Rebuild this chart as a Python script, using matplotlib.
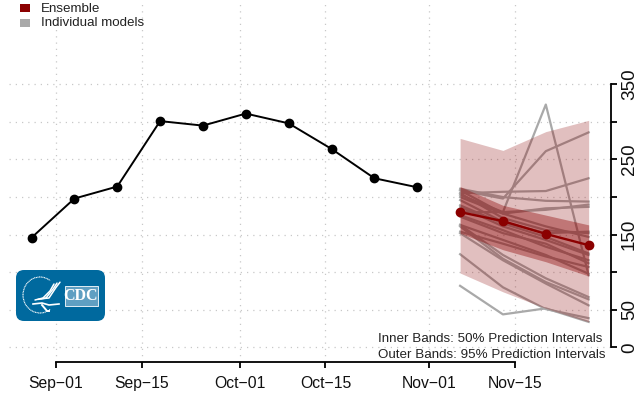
import numpy as np
import matplotlib
matplotlib.use('Agg')
import matplotlib.pyplot as plt
import matplotlib.dates as mdates
from matplotlib.patches import FancyBboxPatch, Arc, Rectangle

plt.rcParams['font.family'] = ['Liberation Sans', 'DejaVu Sans']

# observed data
obs_dates = ['2021-08-28', '2021-09-04', '2021-09-11', '2021-09-18', '2021-09-25',
             '2021-10-02', '2021-10-09', '2021-10-16', '2021-10-23', '2021-10-30']
obs_values = [146, 198, 214, 301, 295, 311, 298, 264, 225, 213]

# forecast
fc_dates = ['2021-11-06', '2021-11-13', '2021-11-20', '2021-11-27']
ensemble = [180, 168, 151, 136]
outer_upper = [278, 262, 287, 302]
outer_lower = [99, 74, 52, 34]
inner_upper = [214, 189, 176, 163]
inner_lower = [152, 130, 114, 95]

# individual models
models = [
    [82, 44, 52, 34],
    [124, 80, 51, 39],
    [180, 180, 323, 96],
    [209, 198, 261, 286],
    [205, 207, 208, 225],
    [211, 200, 195, 194],
    [203, 180, 183, 190],
    [200, 178, 185, 187],
    [163, 123, 92, 67],
    [161, 118, 87, 64],
    [152, 116, 85, 56],
    [189, 165, 147, 125],
    [187, 161, 143, 123],
    [176, 156, 134, 116],
    [196, 167, 152, 154],
    [205, 172, 156, 152],
    [209, 178, 161, 147],
    [154, 138, 121, 107],
    [163, 143, 123, 98],
    [174, 152, 138, 112],
]

tick_dates = ['2021-09-01', '2021-09-15', '2021-10-01', '2021-10-15', '2021-11-01', '2021-11-15']
tick_labels = ['Sep\u221201', 'Sep\u221215', 'Oct\u221201', 'Oct\u221215', 'Nov\u221201', 'Nov\u221215']
y_ticks = [0, 50, 100, 150, 200, 250, 300, 350]
y_labels = ['0', '50', '', '150', '', '250', '', '350']

W, H = 637, 399
fig = plt.figure(figsize=(W / 100, H / 100), dpi=100)
ax = fig.add_axes([9 / W, 1 - 361.7 / H, (610.7 - 9) / W, 361.7 / H])

obs_x = mdates.datestr2num(obs_dates)
fc_x = mdates.datestr2num(fc_dates)
ticks_x = mdates.datestr2num(tick_dates)

ax.grid(True, color='#c8c8c8', linestyle=(0, (1, 4)), linewidth=0.9)
ax.set_axisbelow(True)

# bands go over the model lines
for m in models:
    ax.plot(fc_x, m, color='#a9a9a9', linewidth=1.6)

ax.fill_between(fc_x, outer_lower, outer_upper, color='#8b0000', alpha=0.25, linewidth=0, zorder=3)
ax.fill_between(fc_x, inner_lower, inner_upper, color='#8b0000', alpha=0.38, linewidth=0, zorder=3)

ax.plot(obs_x, obs_values, color='black', linewidth=1.4, marker='o', markersize=6, zorder=4)
ax.plot(fc_x, ensemble, color='#8b0000', linewidth=1.7, marker='o', markersize=6, zorder=4)

ax.set_xlim(ticks_x[0] - 7.68, ticks_x[0] + 90.6)
ax.set_ylim(-18.9, 462)

ax.set_xticks(ticks_x)
ax.set_xticklabels(tick_labels, fontsize=11.3, color='#111111')
ax.yaxis.tick_right()
ax.set_yticks(y_ticks)
ax.set_yticklabels(y_labels, fontsize=13.6, rotation=90, va='center', color='#111111')
ax.tick_params(axis='x', length=4, width=1.3, pad=6)
ax.tick_params(axis='y', length=4, width=1.3, pad=3.5)

for s in ['top', 'left']:
    ax.spines[s].set_visible(False)
ax.spines['bottom'].set_bounds(ticks_x[0], ticks_x[-1])
ax.spines['right'].set_bounds(0, 350)
ax.spines['bottom'].set_linewidth(1.3)
ax.spines['right'].set_linewidth(1.3)

# overlay in pixel coordinates, for legend, notes and logo
ov = fig.add_axes([0, 0, 1, 1], facecolor='none')
ov.set_xlim(0, W)
ov.set_ylim(H, 0)
ov.axis('off')

ov.add_patch(Rectangle((20, 4), 10, 8, color='#8b0000', lw=0))
ov.add_patch(Rectangle((20, 19), 10, 8, color='#a9a9a9', lw=0))
ov.text(41, 8.5, 'Ensemble', fontsize=9.6, va='center', color='#222222')
ov.text(41, 23.5, 'Individual models', fontsize=9.6, va='center', color='#222222')

ov.text(378.5, 338.5, 'Inner Bands: 50% Prediction Intervals', fontsize=9.6, va='center', color='#222222')
ov.text(378.5, 354.5, 'Outer Bands: 95% Prediction Intervals', fontsize=9.6, va='center', color='#222222')

# CDC logo
ov.add_patch(FancyBboxPatch((22, 276), 77, 39, boxstyle='round,pad=6,rounding_size=8', lw=0, color='#00699e'))
ov.add_patch(Arc((40, 295), 34, 36, theta1=55, theta2=305, color='white', lw=0.8, ls=(0, (1, 0.5))))
for dx in [0, 3, 6]:
    ov.plot([35 + dx, 43 + dx, 50 + dx, 54 + dx], [300 - dx * 0.2, 298, 291 - dx * 0.6, 284 - dx * 0.3],
            color='white', lw=1.1, solid_capstyle='round')
ov.plot([33, 42, 49, 59], [304, 303, 305, 304], color='white', lw=1.2)
ov.plot([42, 47, 49], [305, 311, 311], color='white', lw=1.4)
ov.add_patch(Rectangle((64.5, 285.5), 33.5, 20, facecolor='#5f9fc2', edgecolor='white', lw=0.6))
ov.text(81, 295.5, 'CDC', fontsize=11.5, color='white', weight='bold', family='Liberation Serif',
        ha='center', va='center')

plt.savefig('out.png', dpi=100)
